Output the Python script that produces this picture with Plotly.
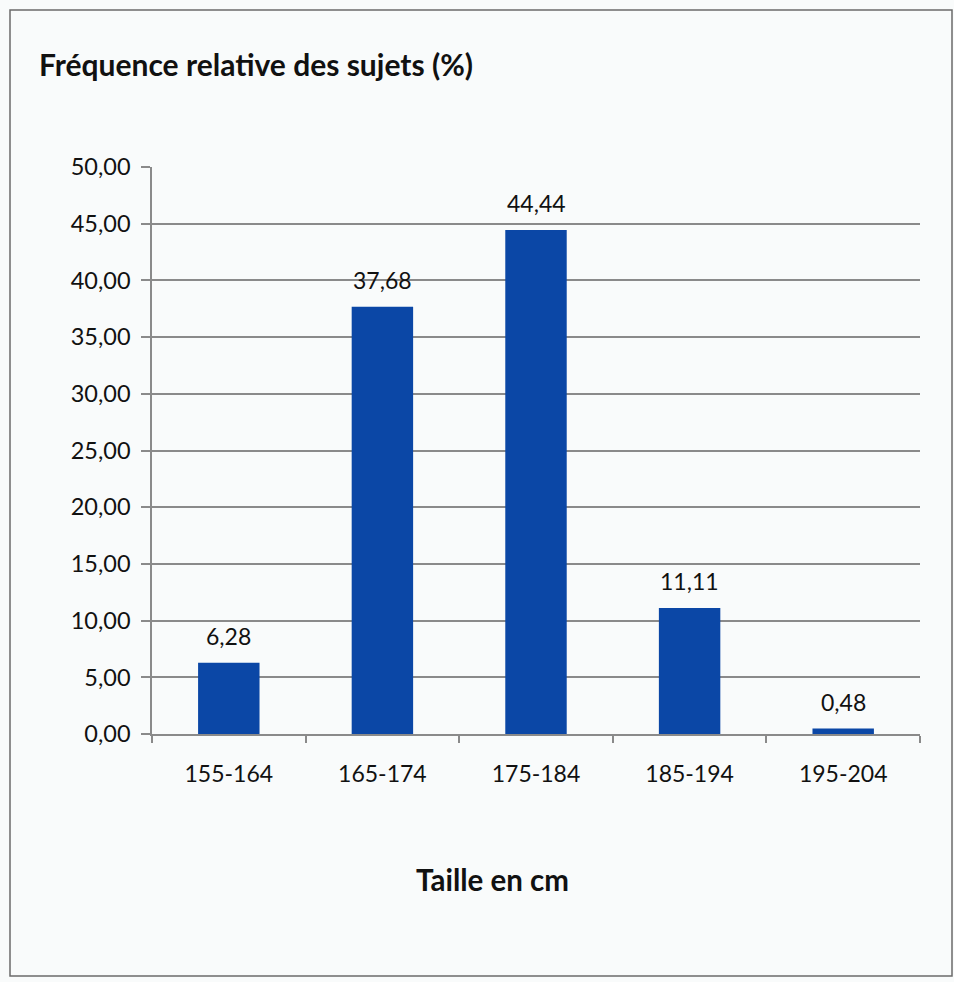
import plotly.graph_objects as go

# Height classes (cm) and relative frequency of subjects (%)
categories = ["155-164", "165-174", "175-184", "185-194", "195-204"]
frequencies = [6.28, 37.68, 44.44, 11.11, 0.48]
y_ticks = [0, 5, 10, 15, 20, 25, 30, 35, 40, 45, 50]

W, H = 954, 982
L, R, T, B = 152, 34, 167, 248
plot_w = W - L - R
plot_h = H - T - B


def px_x(px):
    return (px - L) / plot_w


def px_y(py):
    return (H - B - py) / plot_h


FONT = "Lato"
TEXT = "#111111"
GRID = "#8a8a8a"
BAR = "#0B47A6"

fig = go.Figure(
    go.Bar(
        x=categories,
        y=frequencies,
        marker=dict(color=BAR, line=dict(width=0)),
        hoverinfo="skip",
    )
)

# value labels above each bar, formatted with a decimal comma
value_labels = [
    dict(
        x=cat,
        y=val,
        xref="x",
        yref="y",
        text=f"{val:.2f}".replace(".", ","),
        showarrow=False,
        yanchor="bottom",
        xanchor="center",
        yshift=11,
        font=dict(family=FONT, size=23, color=TEXT),
    )
    for cat, val in zip(categories, frequencies)
]

fig.update_layout(
    width=W,
    height=H,
    autosize=False,
    margin=dict(l=L, r=R, t=T, b=B, pad=0),
    paper_bgcolor="#f9fbfb",
    plot_bgcolor="rgba(0,0,0,0)",
    separators=", ",
    bargap=0.6,
    showlegend=False,
    font=dict(family=FONT, color=TEXT),
    xaxis=dict(
        type="category",
        tickson="boundaries",
        ticks="outside",
        ticklen=7,
        tickwidth=1.5,
        tickcolor=GRID,
        showline=True,
        linecolor=GRID,
        linewidth=1.5,
        showgrid=False,
        tickfont=dict(family=FONT, size=23, color=TEXT),
        ticklabelstandoff=19,
    ),
    yaxis=dict(
        range=[0, 50],
        tickvals=y_ticks,
        tickformat=".2f",
        ticks="outside",
        ticklen=9,
        tickwidth=1.5,
        tickcolor=GRID,
        showline=True,
        linecolor=GRID,
        linewidth=1.5,
        showgrid=True,
        gridcolor=GRID,
        gridwidth=1.5,
        zeroline=False,
        tickfont=dict(family=FONT, size=23.5, color=TEXT),
        ticklabelstandoff=6,
    ),
    annotations=value_labels + [
        dict(
            text="<b>Fréquence relative des sujets (%)</b>",
            xref="paper", yref="paper",
            x=px_x(37), y=px_y(64),
            xanchor="left", yanchor="middle",
            showarrow=False,
            font=dict(family=FONT, size=30, color=TEXT),
        ),
        dict(
            text="<b>Taille en cm</b>",
            xref="paper", yref="paper",
            x=px_x(492), y=px_y(880),
            xanchor="center", yanchor="middle",
            showarrow=False,
            font=dict(family=FONT, size=29.5, color=TEXT),
        ),
    ],
    shapes=[
        dict(
            type="rect",
            xref="paper", yref="paper",
            x0=px_x(10), x1=px_x(952),
            y0=px_y(976), y1=px_y(10),
            line=dict(color="#6b6b6b", width=1.5),
            fillcolor="rgba(0,0,0,0)",
            layer="below",
        )
    ],
)

fig.write_html("out.html")
